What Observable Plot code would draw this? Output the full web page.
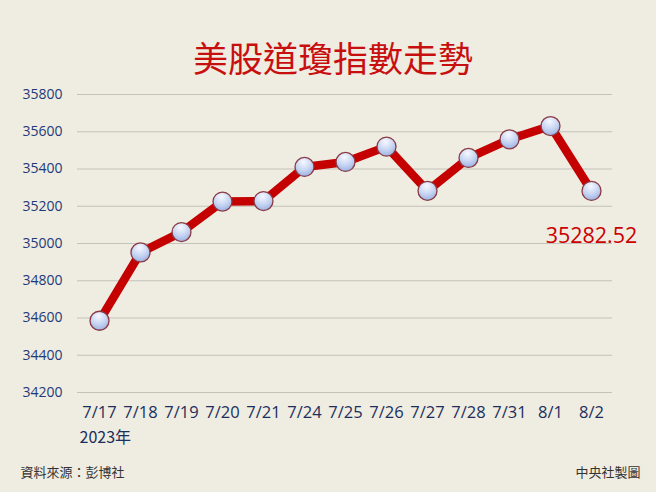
<!DOCTYPE html>
<html>
<head>
<meta charset="utf-8">
<script src="https://cdn.jsdelivr.net/npm/d3@7"></script>
<script src="https://cdn.jsdelivr.net/npm/@observablehq/plot@0.6"></script>
<style>
  html, body { margin: 0; padding: 0; background: #efece1; }
  #chart svg { display: block; background: #efece1; }
</style>
</head>
<body>
<div id="chart"></div>
<script>
const dates = ["7/17","7/18","7/19","7/20","7/21","7/24","7/25","7/26","7/27","7/28","7/31","8/1","8/2"];
const closes = [34585.35, 34951.93, 35061.21, 35225.18, 35227.69, 35411.24, 35438.07, 35520.12, 35282.72, 35459.29, 35559.53, 35630.68, 35282.52];
const yTicks = [34200, 34400, 34600, 34800, 35000, 35200, 35400, 35600, 35800];
const titleText = "美股道瓊指數走勢";
const yearLabel = "2023年";
const sourceText = "資料來源：彭博社";
const creditText = "中央社製圖";

const data = dates.map((d, i) => ({date: d, value: closes[i]}));
const last = [data[data.length - 1]];

const sans = "'Open Sans', 'Noto Sans', sans-serif";
const cjk = "'Noto Sans CJK TC', 'Noto Sans', sans-serif";

const chart = Plot.plot({
  width: 656,
  height: 492,
  marginLeft: 77,
  marginRight: 44,
  marginTop: 94,
  marginBottom: 100,
  style: {background: "#efece1", fontFamily: sans},
  x: {type: "point", domain: dates, padding: 0.47},
  y: {domain: [34200, 35800]},
  marks: [
    Plot.gridY(yTicks, {stroke: "#c4c2bb", strokeOpacity: 1, strokeWidth: 1.2}),
    Plot.axisY(yTicks, {tickSize: 0, tickPadding: 15, fontSize: 14, fill: "#1e3a78", tickFormat: d => String(d), fontFamily: sans, label: null}),
    Plot.axisX({tickSize: 0, tickPadding: 14, fontSize: 16.5, fill: "#1b2f5e", fontFamily: sans, label: null}),
    Plot.line(data, {x: "date", y: "value", stroke: "#c40000", strokeWidth: 8.5, strokeLinejoin: "round", strokeLinecap: "round"}),
    Plot.dot(data, {x: "date", y: "value", r: 9.5, fill: "url(#dotGrad)", stroke: "#8a3b45", strokeWidth: 1.3}),
    Plot.text(last, {x: "date", y: "value", text: d => d.value.toFixed(2), dy: 45, fontSize: 21.5, fill: "#cc0000", fontFamily: sans}),
    Plot.text([titleText], {frameAnchor: "top", dx: -12, dy: -47, fontSize: 35, fontWeight: 400, fill: "#c80f0f", fontFamily: cjk}),
    Plot.text([yearLabel], {frameAnchor: "bottom-left", dx: 2, dy: 50, textAnchor: "start", fontSize: 16, fill: "#1b2f5e", fontFamily: cjk}),
    Plot.text([sourceText], {frameAnchor: "bottom-left", dx: -57, dy: 84, textAnchor: "start", fontSize: 13, fill: "#333333", fontFamily: cjk}),
    Plot.text([creditText], {frameAnchor: "bottom-right", dx: 28, dy: 84, textAnchor: "end", fontSize: 13, fill: "#333333", fontFamily: cjk})
  ]
});

const svg = d3.select(chart);
const defs = svg.insert("defs", ":first-child");
const grad = defs.append("radialGradient").attr("id", "dotGrad")
  .attr("cx", "45%").attr("cy", "25%").attr("r", "80%");
grad.append("stop").attr("offset", "0%").attr("stop-color", "#f6f8ff");
grad.append("stop").attr("offset", "55%").attr("stop-color", "#c6d4f2");
grad.append("stop").attr("offset", "100%").attr("stop-color", "#96ace0");

document.getElementById("chart").appendChild(chart);
</script>
</body>
</html>
